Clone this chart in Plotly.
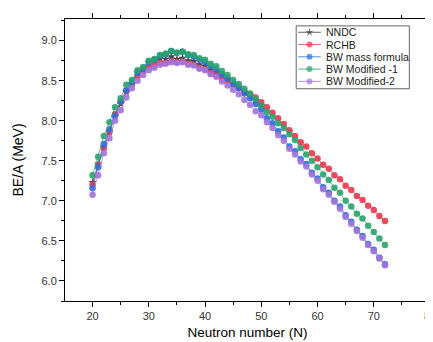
import plotly.graph_objects as go

N = list(range(20, 73))
N_nndc = list(range(20, 51))

nndc = [7.23, 7.46, 7.67, 7.86, 8.05, 8.21, 8.36, 8.46, 8.60, 8.64, 8.73, 8.75, 8.78, 8.77,
        8.80, 8.77, 8.78, 8.75, 8.74, 8.70, 8.68, 8.63, 8.60, 8.55, 8.52, 8.46, 8.42, 8.36,
        8.31, 8.25, 8.19]
rchb = [7.20, 7.44, 7.66, 7.86, 8.08, 8.24, 8.37, 8.46, 8.56, 8.62, 8.67, 8.69, 8.72, 8.72,
        8.74, 8.73, 8.74, 8.71, 8.70, 8.66, 8.64, 8.60, 8.57, 8.52, 8.49, 8.45, 8.41, 8.36,
        8.33, 8.29, 8.23, 8.17, 8.10, 8.03, 7.96, 7.88, 7.81, 7.73, 7.68, 7.595, 7.53, 7.45,
        7.40, 7.32, 7.27, 7.19, 7.136, 7.06, 7.01, 6.94, 6.887, 6.81, 6.75]
bw = [7.157, 7.42, 7.71, 7.894, 8.058, 8.24, 8.38, 8.48, 8.60, 8.65, 8.73, 8.76, 8.81, 8.83,
      8.87, 8.85, 8.86, 8.82, 8.80, 8.76, 8.73, 8.68, 8.64, 8.58, 8.53, 8.46, 8.41, 8.34,
      8.28, 8.21, 8.14, 8.03, 7.97, 7.87, 7.79, 7.68, 7.62, 7.52, 7.46, 7.35, 7.28, 7.17,
      7.10, 7.00, 6.93, 6.82, 6.74, 6.64, 6.56, 6.46, 6.39, 6.29, 6.21]
mod1 = [7.32, 7.55, 7.81, 7.98, 8.17, 8.28, 8.45, 8.51, 8.63, 8.67, 8.75, 8.77, 8.82, 8.84,
        8.87, 8.85, 8.86, 8.83, 8.82, 8.78, 8.76, 8.71, 8.68, 8.62, 8.57, 8.51, 8.46, 8.40,
        8.34, 8.27, 8.19, 8.11, 8.05, 7.97, 7.91, 7.83, 7.76, 7.66, 7.58, 7.50, 7.42, 7.33,
        7.26, 7.165, 7.10, 7.00, 6.93, 6.84, 6.78, 6.69, 6.61, 6.53, 6.45]
mod2 = [7.075, 7.32, 7.595, 7.78, 8.00, 8.13, 8.29, 8.405, 8.50, 8.57, 8.63, 8.66, 8.70, 8.71,
        8.73, 8.72, 8.73, 8.70, 8.69, 8.65, 8.63, 8.58, 8.55, 8.49, 8.44, 8.386, 8.33, 8.26,
        8.20, 8.12, 8.07, 7.98, 7.91, 7.82, 7.75, 7.65, 7.58, 7.49, 7.43, 7.33, 7.25, 7.145,
        7.075, 6.99, 6.90, 6.80, 6.715, 6.625, 6.54, 6.45, 6.37, 6.28, 6.195]

names = ["NNDC", "RCHB", "BW mass formula", "BW Modified -1", "BW Modified-2"]
xs = [N_nndc, N, N, N, N]
ys = [nndc, rchb, bw, mod1, mod2]
colors = ["#3c3c3c", "#e8384f", "#2a6fdb", "#2aa36b", "#a374db"]
symbols = ["star", "circle", "circle", "circle", "circle"]

fig = go.Figure()
for name, x, y, c, sym in zip(names, xs, ys, colors, symbols):
    fig.add_trace(go.Scatter(
        x=x, y=y, name=name, mode="lines+markers", showlegend=False,
        line=dict(color=c, width=0.7),
        marker=dict(color=c, size=6.5, symbol=sym, opacity=0.9, line=dict(width=0)),
    ))

# Hand-drawn legend on an overlay axis measured in pixels of the plot area
LX0, LX1, LY0, LY1 = 292, 407, 13, 77
for i, (name, c, sym) in enumerate(zip(names, colors, symbols)):
    yy = 19.5 + 12.5 * i
    fig.add_trace(go.Scatter(
        x=[294, 305.5, 317], y=[yy, yy, yy], xaxis="x2", yaxis="y2",
        mode="lines+markers", showlegend=False, hoverinfo="skip",
        line=dict(color=c, width=0.8),
        marker=dict(color=c, size=[0, 6, 0], symbol=sym, line=dict(width=0)),
    ))
    fig.add_annotation(x=320, y=yy, xref="x2", yref="y2", text=name,
                       showarrow=False, xanchor="left", yanchor="middle",
                       font=dict(size=10.5, color="#222222"))
fig.add_shape(type="rect", xref="x2", yref="y2", x0=LX0, x1=LX1, y0=LY0, y1=LY1,
              line=dict(color="#666666", width=1), fillcolor="rgba(0,0,0,0)")

axis_common = dict(
    showline=True, linecolor="black", linewidth=1, mirror="allticks",
    ticks="outside", ticklen=5, tickwidth=1, tickcolor="black",
    showgrid=False, zeroline=False,
    tickfont=dict(size=11, color="#333333"),
)

fig.update_layout(
    width=433, height=342,
    margin=dict(l=57, r=5, t=6, b=49),
    paper_bgcolor="white", plot_bgcolor="white",
    font=dict(family="Liberation Sans, Arial, sans-serif", color="black"),
    xaxis=dict(range=[15.1, 80], dtick=10, tick0=0,
               minor=dict(ticks="outside", ticklen=3, dtick=5, tickcolor="black"),
               title=dict(text="Neutron number (N)", font=dict(size=13.5), standoff=6),
               **axis_common),
    yaxis=dict(range=[5.75, 9.27], dtick=0.5, tick0=0, tickformat=".1f",
               minor=dict(ticks="outside", ticklen=3, dtick=0.25, tickcolor="black"),
               title=dict(text="BE/A (MeV)", font=dict(size=14), standoff=14),
               **axis_common),
    xaxis2=dict(overlaying="x", range=[57, 428], visible=False, fixedrange=True),
    yaxis2=dict(overlaying="y", range=[293, 6], visible=False, fixedrange=True),
    showlegend=False,
)

fig.write_html("out.html")
